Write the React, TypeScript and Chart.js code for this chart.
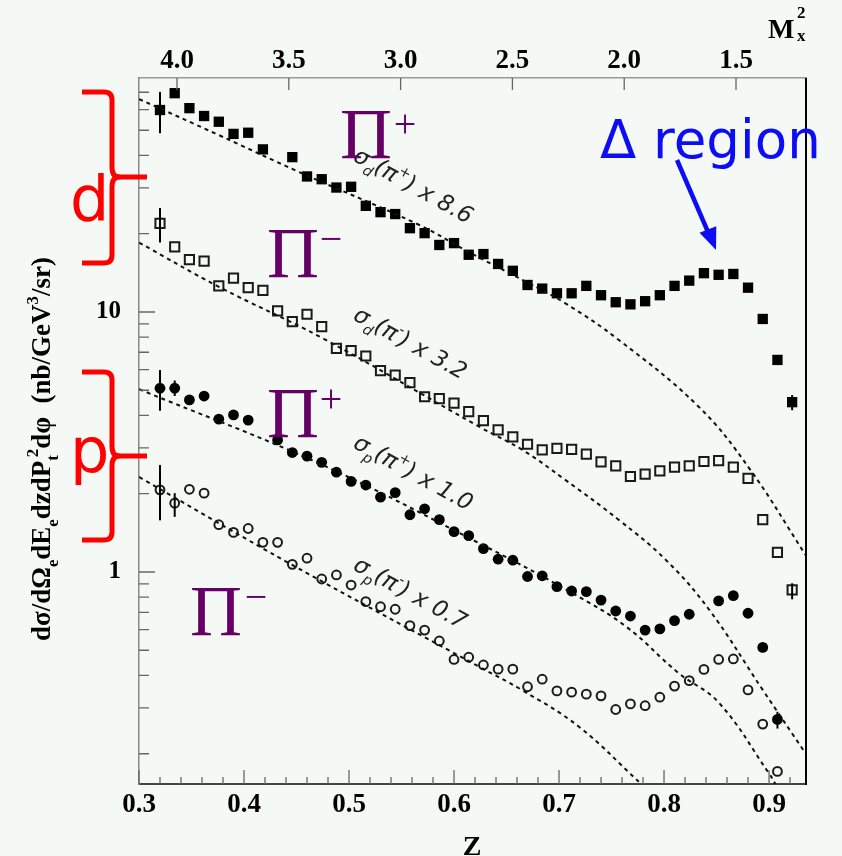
import React, { useEffect, useRef } from "react";
import { Chart, registerables } from "chart.js";

Chart.register(...registerables);

// ---------- DATA ----------
const Z_BINS = [
  0.320, 0.334, 0.348, 0.362, 0.376, 0.390, 0.404, 0.418, 0.432, 0.446,
  0.460, 0.474, 0.488, 0.502, 0.516, 0.530, 0.544, 0.558, 0.572, 0.586,
  0.600, 0.614, 0.628, 0.642, 0.656, 0.670, 0.684, 0.698, 0.712, 0.726,
  0.740, 0.754, 0.768, 0.782, 0.796, 0.810, 0.824, 0.838, 0.852, 0.866,
  0.880, 0.894, 0.908, 0.922,
];

// deuteron, pi+  (x 8.6)  filled squares
const D_PI_PLUS = [
  59.8, 69.4, 60.8, 56.7, 53.9, 48.4, 48.9, 42.2, null, 39.4,
  33.2, 32.4, 30.1, 30.3, 25.6, 24.2, 23.8, 21.0, 20.1, 18.1,
  18.4, 16.6, 16.7, 15.3, 14.4, 12.7, 12.3, 11.8, 11.8, 12.6,
  11.6, 10.9, 10.7, 11.0, 11.6, 12.6, 13.2, 14.1, 13.9, 14.0,
  12.4, 9.4, 6.54, 4.50,
];
// deuteron, pi-  (x 3.2)  open squares
const D_PI_MINUS = [
  21.9, 17.8, 15.9, 15.7, 12.6, 13.5, 12.4, 12.1, 10.1, 9.18,
  9.80, 8.78, 7.25, 7.10, 6.77, 5.95, 5.72, 5.35, 4.72, 4.64,
  4.46, 4.14, 3.82, 3.52, 3.31, 3.10, 2.95, 2.99, 2.96, 2.84,
  2.65, 2.56, 2.33, 2.38, 2.45, 2.53, 2.56, 2.66, 2.68, 2.53,
  2.29, 1.59, 1.19, 0.853,
];
// proton, pi+  (x 1.0)  filled circles
const P_PI_PLUS = [
  5.09, 5.09, 4.59, 4.75, 3.87, 4.02, 3.84, null, 3.22, 2.88,
  2.79, 2.64, 2.42, 2.23, 2.16, 1.94, 2.02, 1.66, 1.75, 1.59,
  1.43, 1.38, 1.23, 1.12, 1.11, 0.961, 0.967, 0.878, 0.845, 0.840,
  0.780, 0.708, 0.677, 0.598, 0.604, 0.650, 0.688, null, 0.774, 0.811,
  0.694, 0.513, 0.271, null,
];
// proton, pi-  (x 0.7)  open circles
const P_PI_MINUS = [
  2.07, 1.84, 2.08, 2.01, 1.52, 1.42, 1.47, 1.30, 1.30, 1.07,
  1.13, 0.940, 0.974, 0.891, 0.769, 0.735, 0.719, 0.622, 0.598, 0.543,
  0.461, 0.470, 0.439, 0.423, 0.423, 0.362, 0.387, 0.349, 0.345, 0.339,
  0.334, 0.296, 0.311, 0.306, 0.330, 0.364, 0.382, 0.422, 0.461, 0.463,
  0.352, 0.260, 0.171, null,
];

// error bars: [z, low, high]
const D_PI_PLUS_ERR = [[0.320, 48.7, 70.2], [0.922, 4.19, 4.79]];
const D_PI_MINUS_ERR = [[0.320, 18.5, 25.1], [0.922, 0.785, 0.905]];
const P_PI_PLUS_ERR = [[0.320, 4.17, 5.98], [0.334, 4.75, 5.45], [0.908, 0.25, 0.29]];
const P_PI_MINUS_ERR = [[0.320, 1.58, 2.58], [0.334, 1.63, 2.01]];

// model curves (dashed)
const CURVE_D_PLUS_Z = [0.300, 0.376, 0.452, 0.567, 0.614, 0.668, 0.706, 0.757, 0.833, 0.881, 0.935];
const CURVE_D_PLUS_V = [65.9, 47.9, 34.6, 21.6, 17.0, 13.1, 10.8, 7.80, 4.32, 2.51, 1.16];
const CURVE_D_MINUS_Z = [0.300, 0.376, 0.475, 0.624, 0.665, 0.706, 0.757, 0.802, 0.843, 0.894, 0.935];
const CURVE_D_MINUS_V = [18.5, 12.5, 7.92, 3.62, 2.95, 2.26, 1.585, 1.11, 0.716, 0.352, 0.200];
const CURVE_P_PLUS_Z = [0.300, 0.471, 0.624, 0.713, 0.764, 0.814, 0.852, 0.900, 0.906];
const CURVE_P_PLUS_V = [5.05, 2.62, 1.29, 0.828, 0.616, 0.408, 0.315, 0.168, 0.153];
const CURVE_P_MINUS_Z = [0.300, 0.446, 0.624, 0.665, 0.719, 0.776];
const CURVE_P_MINUS_V = [2.32, 1.064, 0.432, 0.351, 0.254, 0.156];

// axes
const X_TICKS = [0.3, 0.4, 0.5, 0.6, 0.7, 0.8, 0.9];
const X_MINOR = [0.32, 0.34, 0.36, 0.38, 0.42, 0.44, 0.46, 0.48, 0.52, 0.54, 0.56, 0.58, 0.62, 0.64, 0.66, 0.68, 0.72, 0.74, 0.76, 0.78, 0.82, 0.84, 0.86, 0.88, 0.92];
const X2_TICKS = [4.0, 3.5, 3.0, 2.5, 2.0, 1.5];
const Y_TICKS = [1, 10];
const Y_MINOR = [0.2, 0.3, 0.4, 0.5, 0.6, 0.7, 0.8, 0.9, 2, 3, 4, 5, 6, 7, 8, 9, 20, 30, 40, 50, 60, 70];

// text
const CURVE_LABEL_SUB = ["d", "d", "p", "p"];
const CURVE_LABEL_SIGN = ["+", "-", "+", "-"];
const CURVE_LABEL_FACTOR = ["8.6", "3.2", "1.0", "0.7"];
const PI_SIGNS = ["+", "\u2212", "+", "\u2212"];

// ---------- STYLE / POSITIONS ----------
const BG = "#f5f9f6";
const PURPLE = "#660066";
const RED = "#ff0000";
const BLUE = "#0d0df5";
const SERIF = '"Liberation Serif", "Times New Roman", serif';
const SANS = '"DejaVu Sans", sans-serif';

const CURVE_LABEL_POS = [
  [352, 160], [352, 319], [352, 447], [352, 569],
];
const PI_POS = [
  [340, 158, 405, 127], [267, 277, 331, 242], [267, 437, 331, 402], [190, 635, 256, 600],
];

type Run = { t: string; k?: "sub" | "sup"; back?: number };

function drawRuns(ctx: CanvasRenderingContext2D, runs: Run[], fontFn: (s: number) => string, base: number, x0: number | null) {
  let w = 0;
  const items: any[] = [];
  for (const r of runs) {
    const size = r.k ? base * 0.62 : base;
    ctx.font = fontFn(size);
    w -= r.back || 0;
    const dy = r.k === "sub" ? base * 0.3 : r.k === "sup" ? -base * 0.45 : 0;
    items.push({ t: r.t, x: w, size, dy });
    w += ctx.measureText(r.t).width;
  }
  const start = x0 === null ? -w / 2 : x0;
  for (const it of items) {
    ctx.font = fontFn(it.size);
    ctx.fillText(it.t, start + it.x, it.dy);
  }
  return w;
}

function bracket(ctx: CanvasRenderingContext2D, yTop: number, yMid: number, yBot: number) {
  ctx.beginPath();
  ctx.moveTo(82, yTop);
  ctx.lineTo(104, yTop);
  ctx.quadraticCurveTo(112, yTop, 112, yTop + 8);
  ctx.lineTo(112, yMid - 10);
  ctx.quadraticCurveTo(112, yMid, 119, yMid);
  ctx.quadraticCurveTo(112, yMid, 112, yMid + 10);
  ctx.lineTo(112, yBot - 8);
  ctx.quadraticCurveTo(112, yBot, 104, yBot);
  ctx.lineTo(82, yBot);
  ctx.stroke();
  ctx.beginPath();
  ctx.moveTo(115, yMid);
  ctx.lineTo(147, yMid);
  ctx.stroke();
}

const decorPlugin = {
  id: "decor",
  beforeDraw(chart: any) {
    const { ctx, width, height } = chart;
    ctx.save();
    ctx.fillStyle = BG;
    ctx.fillRect(0, 0, width, height);
    ctx.restore();
  },
  afterDraw(chart: any) {
    const { ctx, chartArea } = chart;
    const { left, right, top, bottom } = chartArea;
    const sx = chart.scales.x;
    const sx2 = chart.scales.x2;
    const sy = chart.scales.y;
    ctx.save();

    // ticks (inward)
    ctx.strokeStyle = "#666";
    ctx.lineWidth = 1.3;
    ctx.beginPath();
    for (const v of X_TICKS) {
      const p = sx.getPixelForValue(v);
      ctx.moveTo(p, bottom); ctx.lineTo(p, bottom - 14);
    }
    for (const v of X_MINOR) {
      const p = sx.getPixelForValue(v);
      ctx.moveTo(p, bottom); ctx.lineTo(p, bottom - 7);
    }
    for (const v of X2_TICKS) {
      const p = sx2.getPixelForValue(v);
      ctx.moveTo(p, top); ctx.lineTo(p, top + 12);
    }
    for (const v of Y_TICKS) {
      const p = sy.getPixelForValue(v);
      ctx.moveTo(left, p); ctx.lineTo(left + 16, p);
    }
    for (const v of Y_MINOR) {
      const p = sy.getPixelForValue(v);
      if (p < top || p > bottom) continue;
      ctx.moveTo(left, p); ctx.lineTo(left + 10, p);
    }
    ctx.stroke();

    // right frame
    ctx.strokeStyle = "#000";
    ctx.lineWidth = 2;
    ctx.beginPath();
    ctx.moveTo(right, top); ctx.lineTo(right, bottom + 1);
    ctx.stroke();

    // curve labels
    ctx.fillStyle = "#222";
    ctx.textBaseline = "alphabetic";
    ctx.textAlign = "left";
    const labFont = (s: number) => `italic ${s}px ${SANS}`;
    for (let i = 0; i < 4; i++) {
      ctx.save();
      ctx.translate(CURVE_LABEL_POS[i][0], CURVE_LABEL_POS[i][1]);
      ctx.rotate((29 * Math.PI) / 180);
      drawRuns(ctx, [
        { t: "\u03C3" }, { t: CURVE_LABEL_SUB[i], k: "sub" }, { t: "(\u03C0" },
        { t: CURVE_LABEL_SIGN[i], k: "sup" }, { t: ")" }, { t: " x " + CURVE_LABEL_FACTOR[i] },
      ], labFont, 23, 0);
      ctx.restore();
    }

    // Pi labels
    ctx.fillStyle = PURPLE;
    for (let i = 0; i < 4; i++) {
      const [px, py, sx0, sy0] = PI_POS[i];
      ctx.font = `72px ${SERIF}`;
      ctx.textAlign = "left";
      ctx.fillText("\u03A0", px, py);
      ctx.font = `40px ${SERIF}`;
      ctx.textAlign = "center";
      ctx.fillText(PI_SIGNS[i], sx0, sy0 + 10);
    }

    // red brackets + d / p
    ctx.strokeStyle = RED;
    ctx.fillStyle = RED;
    ctx.lineWidth = 5;
    ctx.lineJoin = "round";
    bracket(ctx, 92, 177, 263);
    bracket(ctx, 372, 456, 540);
    ctx.font = `62px ${SANS}`;
    ctx.textAlign = "left";
    ctx.fillText("d", 70, 220);
    ctx.fillText("p", 70, 472);

    // Delta region + arrow
    ctx.fillStyle = BLUE;
    ctx.strokeStyle = BLUE;
    ctx.font = `53px ${SANS}`;
    ctx.fillText("\u0394 region", 600, 158);
    ctx.lineWidth = 4.5;
    ctx.beginPath();
    ctx.moveTo(677, 160);
    ctx.lineTo(708, 232);
    ctx.stroke();
    ctx.beginPath();
    ctx.moveTo(699.5, 232.8);
    ctx.lineTo(716.3, 226.2);
    ctx.lineTo(716, 250);
    ctx.closePath();
    ctx.fill();

    // axis titles
    ctx.fillStyle = "#000";
    ctx.font = `bold 28px ${SERIF}`;
    ctx.textAlign = "center";
    ctx.fillText("Z", 472, 855);
    ctx.textAlign = "left";
    ctx.fillText("M", 768, 38);
    ctx.font = `bold 17px ${SERIF}`;
    ctx.fillText("x", 797, 41);
    ctx.fillText("2", 797, 18);

    // y title (rotated)
    ctx.save();
    ctx.translate(50, 449);
    ctx.rotate(-Math.PI / 2);
    const tf = (s: number) => `bold ${s}px ${SERIF}`;
    drawRuns(ctx, [
      { t: "d\u03C3/d\u03A9" }, { t: "e", k: "sub" }, { t: "dE" }, { t: "e", k: "sub" },
      { t: "dzdP" }, { t: "t", k: "sub" }, { t: "2", k: "sup", back: 2 }, { t: "d\u03C6" },
      { t: "  (nb/GeV" }, { t: "3", k: "sup" }, { t: "/sr)" },
    ], tf, 27, null);
    ctx.restore();

    ctx.restore();
  },
};

function pts(zs: number[], vs: (number | null)[]) {
  return zs.map((z, i) => ({ x: z, y: vs[i] }));
}

export default function App() {
  const ref = useRef<HTMLCanvasElement | null>(null);

  useEffect(() => {
    document.body.style.margin = "0";
    document.body.style.background = BG;
    const canvas = ref.current;
    if (!canvas) return;

    const curve = (zs: number[], vs: number[]) => ({
      data: pts(zs, vs),
      borderColor: "#111",
      borderWidth: 2,
      borderDash: [4, 4],
      pointRadius: 0,
      showLine: true,
      tension: 0.4,
      fill: false,
    });
    const errs = (list: number[][]) =>
      list.map(([z, lo, hi]) => ({
        data: [{ x: z, y: lo }, { x: z, y: hi }],
        borderColor: "#000",
        borderWidth: 2,
        pointRadius: 0,
        showLine: true,
        fill: false,
      }));
    const marks = (vs: (number | null)[], style: string, r: number, filled: boolean) => ({
      data: pts(Z_BINS, vs),
      showLine: false,
      pointStyle: style,
      pointRadius: r,
      pointBackgroundColor: filled ? "#000" : "rgba(0,0,0,0)",
      pointBorderColor: filled ? "#000" : "#1a1a1a",
      pointBorderWidth: filled ? 0 : 2,
    });

    const labelFont = { family: SERIF, size: 27, weight: "bold" as const };

    const chart = new Chart(canvas, {
      type: "line",
      data: {
        datasets: [
          curve(CURVE_D_PLUS_Z, CURVE_D_PLUS_V),
          curve(CURVE_D_MINUS_Z, CURVE_D_MINUS_V),
          curve(CURVE_P_PLUS_Z, CURVE_P_PLUS_V),
          curve(CURVE_P_MINUS_Z, CURVE_P_MINUS_V),
          ...errs(D_PI_PLUS_ERR),
          ...errs(D_PI_MINUS_ERR),
          ...errs(P_PI_PLUS_ERR),
          ...errs(P_PI_MINUS_ERR),
          marks(D_PI_PLUS, "rect", 7.3, true),
          marks(D_PI_MINUS, "rect", 6.5, false),
          marks(P_PI_PLUS, "circle", 5.4, true),
          marks(P_PI_MINUS, "circle", 4.4, false),
        ] as any,
      },
      options: {
        responsive: false,
        animation: false,
        events: [],
        layout: { padding: { left: 0, right: 36, top: 0, bottom: 0 } },
        plugins: { legend: { display: false }, tooltip: { enabled: false } },
        scales: {
          x: {
            type: "linear",
            position: "bottom",
            min: 0.3,
            max: 0.9352,
            afterBuildTicks: (s: any) => { s.ticks = X_TICKS.map((v) => ({ value: v })); },
            afterFit: (s: any) => { s.height = 72; },
            ticks: {
              font: labelFont, color: "#000", padding: 5, maxRotation: 0, autoSkip: false,
              callback: (v: any) => Number(v).toFixed(1),
            },
            grid: { display: false, drawTicks: false },
            border: { display: true, color: "#444", width: 2 },
          },
          x2: {
            type: "linear",
            position: "top",
            min: 1.187,
            max: 4.17,
            reverse: true,
            afterBuildTicks: (s: any) => { s.ticks = X2_TICKS.map((v) => ({ value: v })); },
            afterFit: (s: any) => { s.height = 78; },
            ticks: {
              font: labelFont, color: "#000", padding: 1, maxRotation: 0, autoSkip: false,
              callback: (v: any) => Number(v).toFixed(1),
            },
            grid: { display: false, drawTicks: false },
            border: { display: true, color: "#999", width: 1.5 },
          },
          y: {
            type: "logarithmic",
            position: "left",
            min: 0.153,
            max: 79.4,
            afterBuildTicks: (s: any) => { s.ticks = Y_TICKS.map((v) => ({ value: v })); },
            afterFit: (s: any) => { s.width = 139; },
            ticks: {
              font: { family: SERIF, size: 25, weight: "bold" as const }, color: "#000", padding: 18,
              autoSkip: false,
              callback: (v: any) => String(v),
            },
            grid: { display: false, drawTicks: false },
            border: { display: true, color: "#888", width: 1.5 },
          },
        } as any,
      },
      plugins: [decorPlugin],
    });
    return () => chart.destroy();
  }, []);

  return (
    <div style={{ width: 842, height: 856, background: BG }}>
      <canvas ref={ref} width={842} height={856} style={{ display: "block" }} />
    </div>
  );
}
